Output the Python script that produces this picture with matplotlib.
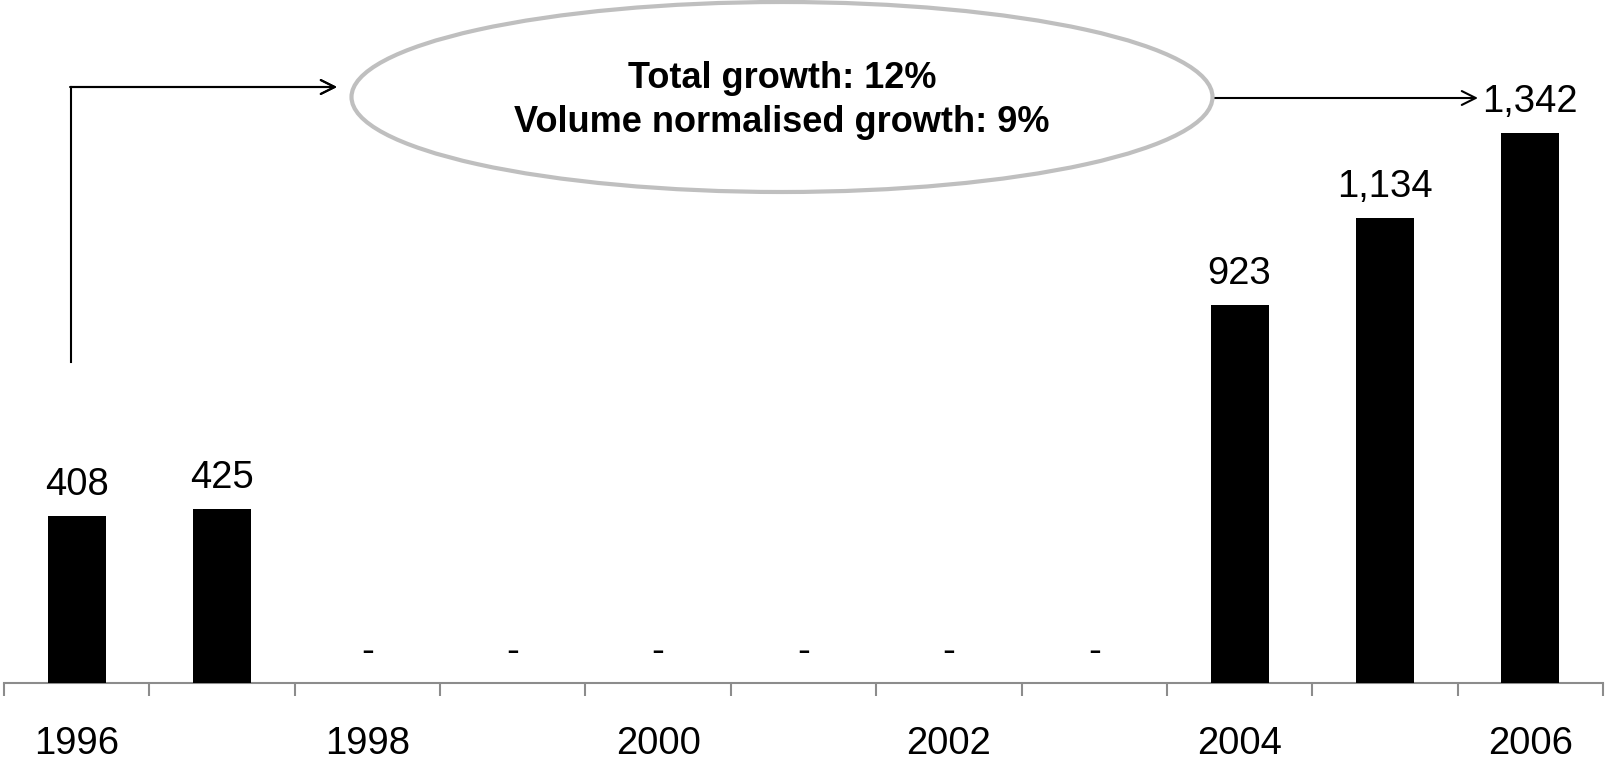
import matplotlib
matplotlib.use("Agg")
import matplotlib.pyplot as plt
from matplotlib.patches import Ellipse
from matplotlib.lines import Line2D

plt.rcParams['font.family'] = ['Liberation Sans', 'DejaVu Sans']

years = [1996, 1997, 1998, 1999, 2000, 2001, 2002, 2003, 2004, 2005, 2006]
values = [408, 425, 0, 0, 0, 0, 0, 0, 923, 1134, 1342]
shown_years = [1996, 1998, 2000, 2002, 2004, 2006]
summary_lines = ["Total growth: 12%", "Volume normalised growth: 9%"]

W, H = 1607, 760
fig = plt.figure(figsize=(W / 100, H / 100), dpi=100)
ax = fig.add_axes([4 / W, 77 / H, 1599 / W, 683 / H])

x = list(range(len(years)))
ax.bar(x, values, width=0.4, color='black', zorder=3)
ax.set_xlim(-0.5, len(years) - 0.5)
ax.set_ylim(0, 1667)

# value labels, with a dash for empty years
for xi, v in zip(x, values):
    txt = f"{v:,}" if v else "-"
    ax.annotate(txt, (xi, v), xytext=(0, 13), textcoords='offset pixels',
                ha='center', va='bottom', fontsize=27.5)

# axis: only the bottom spine with boundary ticks
for s in ['top', 'right', 'left']:
    ax.spines[s].set_visible(False)
ax.spines['bottom'].set_color('#8c8c8c')
ax.spines['bottom'].set_linewidth(1.5)
ax.set_yticks([])
ax.set_xticks([i - 0.5 for i in range(len(years) + 1)])
ax.set_xticklabels([])
ax.tick_params(axis='x', which='major', length=9, width=1.5, color='#8c8c8c')
ax.set_xticks([years.index(y) for y in shown_years], minor=True)
ax.set_xticklabels([str(y) for y in shown_years], minor=True, fontsize=27.5)
ax.tick_params(axis='x', which='minor', length=0, pad=31)

# summary bubble
def fx(px):
    return px / W

def fy(py):
    return 1 - py / H

ell = Ellipse((fx(782), fy(97)), 861 / W, 190 / H, transform=fig.transFigure,
              facecolor='none', edgecolor='#bfbfbf', linewidth=3)
fig.patches.append(ell)
fig.text(fx(782), fy(79), summary_lines[0], ha='center', va='center',
         fontsize=26, fontweight='bold')
fig.text(fx(782), fy(123), summary_lines[1], ha='center', va='center',
         fontsize=26, fontweight='bold')

# connector arrows
fig.lines.append(Line2D([fx(71), fx(71)], [fy(362), fy(87)],
                        transform=fig.transFigure, color='black', linewidth=1.5))
fig.add_artist(plt.annotate('', xy=(fx(337), fy(87)), xytext=(fx(70.3), fy(87)),
                            xycoords='figure fraction', textcoords='figure fraction',
                            arrowprops=dict(arrowstyle='->,head_length=1.0,head_width=0.5',
                                            color='black', linewidth=1.5,
                                            shrinkA=0, shrinkB=0)))
ax.annotate('', xy=(fx(1478), fy(98)), xytext=(fx(1213), fy(98)),
            xycoords='figure fraction', textcoords='figure fraction',
            arrowprops=dict(arrowstyle='->,head_length=1.0,head_width=0.5',
                            color='black', linewidth=1.5, shrinkA=0, shrinkB=0))

fig.savefig('out.png', dpi=100)
